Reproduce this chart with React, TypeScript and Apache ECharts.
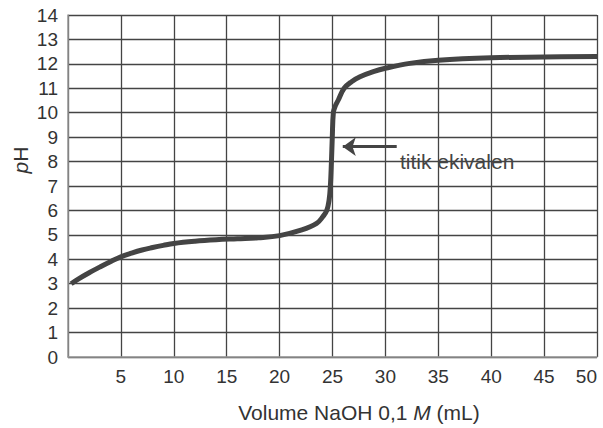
import React, { useEffect, useRef } from "react";
import * as echarts from "echarts";

const volumes = [0.3, 1, 2, 3, 4, 5, 6, 7, 8, 9, 10, 12, 14, 16, 18, 20, 22.1, 23.5, 24.1, 24.46, 24.68, 24.8, 24.9, 24.98, 25.08, 25.24, 25.55, 26.1, 26.8, 27.6, 28.86, 30, 32.3, 35, 40, 45, 50];
const phValues = [3.0, 3.2, 3.45, 3.68, 3.9, 4.1, 4.25, 4.38, 4.48, 4.57, 4.65, 4.74, 4.8, 4.84, 4.88, 4.97, 5.2, 5.47, 5.75, 6.0, 6.43, 7.0, 8.0, 9.0, 10.0, 10.25, 10.52, 11.0, 11.27, 11.47, 11.68, 11.82, 12.02, 12.15, 12.25, 12.28, 12.3];
const arrowFrom = [31.07, 8.61];
const arrowTo = [25.97, 8.61];
const annotationText = "titik ekivalen";
const annotationAt = [30.9, 8.0];
const xAxisTitle = "Volume NaOH 0,1 {i|M} (mL)";
const yAxisTitle = "{i|p}H";

export default function App() {
  const ref = useRef<HTMLDivElement>(null);
  useEffect(() => {
    if (!ref.current) return;
    const chart = echarts.init(ref.current, null, { renderer: "svg" });
    const font = "Liberation Sans, Arial, sans-serif";
    chart.setOption({
      animation: false,
      backgroundColor: "#fff",
      textStyle: { fontFamily: font },
      grid: { left: 68, right: 6, top: 15, bottom: 71, containLabel: false },
      xAxis: {
        type: "value",
        min: 0,
        max: 50,
        interval: 5,
        axisLine: { show: true, lineStyle: { color: "#999", width: 1.5 } },
        axisTick: { show: false },
        axisLabel: {
          margin: 10,
          fontSize: 19,
          color: "#333",
          fontFamily: font,
          alignMaxLabel: "right",
          formatter: (v: number) => (v === 0 ? "" : String(v)),
        },
        splitLine: { show: true, lineStyle: { color: "#444", width: 1.3 } },
      },
      yAxis: {
        type: "value",
        min: 0,
        max: 14,
        interval: 1,
        axisLine: { show: true, lineStyle: { color: "#999", width: 1.5 } },
        axisTick: { show: false },
        axisLabel: { margin: 10, fontSize: 19, color: "#333", fontFamily: font },
        splitLine: { show: true, lineStyle: { color: "#444", width: 1.3 } },
      },
      graphic: [
        {
          type: "text",
          x: 359,
          y: 412,
          style: {
            text: xAxisTitle,
            fill: "#333",
            font: `21px ${font}`,
            textAlign: "center",
            textVerticalAlign: "middle",
            rich: { i: { fontStyle: "italic", fontSize: 21, fill: "#333", fontFamily: font } },
          },
        },
        {
          type: "text",
          x: 20,
          y: 160,
          rotation: Math.PI / 2,
          style: {
            text: yAxisTitle,
            fill: "#333",
            font: `21px ${font}`,
            textAlign: "center",
            textVerticalAlign: "middle",
            rich: { i: { fontStyle: "italic", fontSize: 21, fill: "#333", fontFamily: font } },
          },
        },
      ],
      series: [
        {
          type: "line",
          data: volumes.map((v, i) => [v, phValues[i]]),
          showSymbol: false,
          smooth: 0.4,
          lineStyle: { color: "#444", width: 5 },
          z: 5,
          markLine: {
            silent: true,
            symbol: ["none", "arrow"],
            symbolSize: [14, 13],
            label: { show: false },
            lineStyle: { color: "#444", width: 3, type: "solid" },
            data: [[{ coord: arrowFrom }, { coord: arrowTo }]],
          },
          markPoint: {
            silent: true,
            symbol: "circle",
            symbolSize: 0,
            data: [
              {
                coord: annotationAt,
                label: {
                  show: true,
                  position: "right",
                  distance: 5,
                  formatter: annotationText,
                  fontSize: 21,
                  color: "#444",
                  fontFamily: font,
                },
              },
            ],
          },
        },
      ],
    });
    return () => chart.dispose();
  }, []);
  return (
    <div
      ref={ref}
      style={{ position: "absolute", left: 0, top: 0, width: 603, height: 428 }}
    />
  );
}
